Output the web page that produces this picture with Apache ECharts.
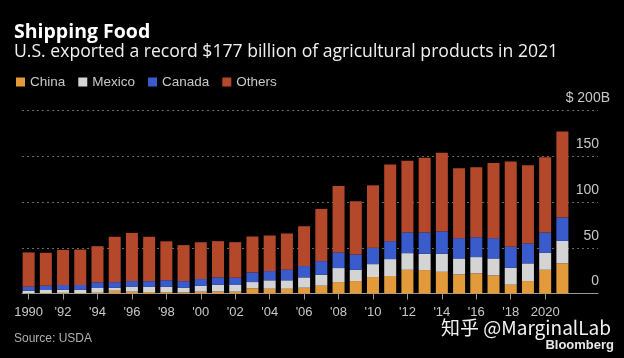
<!DOCTYPE html>
<html>
<head>
<meta charset="utf-8">
<style>
html,body{margin:0;padding:0;background:#000;}
#c{width:624px;height:358px;}
</style>
<script src="https://cdn.jsdelivr.net/npm/echarts@6/dist/echarts.min.js"></script>
</head>
<body>
<div id="c"></div>
<script>
const years = ['1990','1991','1992','1993','1994','1995','1996','1997','1998','1999','2000','2001','2002','2003','2004','2005','2006','2007','2008','2009','2010','2011','2012','2013','2014','2015','2016','2017','2018','2019','2020','2021'];
const china  = [0.5,0.5,0.7,0.4,0.8,3.0,2.0,1.6,1.5,1.2,2.0,2.2,2.0,5.7,5.2,5.2,6.3,8.5,12.5,13.6,18.0,19.1,25.9,25.6,23.7,20.9,22.0,19.8,9.6,13.6,25.9,32.9];
const mexico = [2.5,3.3,3.4,3.7,5.2,3.2,5.5,5.6,5.8,4.9,6.3,7.4,7.3,6.8,9.2,9.2,11.3,12.0,15.3,12.3,14.1,18.5,18.2,17.8,19.7,17.4,17.8,18.5,18.5,19.3,18.5,24.6];
const canada = [4.4,4.7,5.2,5.2,6.2,6.2,6.1,6.2,7.2,7.4,7.5,8.0,7.9,10.5,10.1,11.5,12.4,14.9,17.1,16.8,17.8,19.6,22.6,23.3,24.4,22.2,21.7,22.2,22.9,21.8,22.3,25.5];
const others = [37.5,36.0,38.4,38.7,39.5,49.6,52.6,48.6,42.5,39.4,40.2,39.6,38.9,39.3,38.9,39.7,43.5,57.0,72.5,58.1,68.3,83.8,78.3,81.7,86.0,76.5,76.6,82.0,93.3,85.6,82.3,94.0];
const seriesNames = ['China','Mexico','Canada','Others'];
const yTicks = [0,50,100,150,200];

const colors = ['#e39a3b','#d4d4d4','#3a5bcc','#b4482a'];
const font = 'Liberation Sans, Arial, sans-serif';
const headFont = '"Open Sans", sans-serif';

const chart = echarts.init(document.getElementById('c'), null, {renderer:'canvas'});
const seriesData = [china, mexico, canada, others];

chart.setOption({
  backgroundColor: '#000',
  animation: false,
  color: colors,
  title: [
    {text: 'Shipping Food', left: 9, top: 17,
     textStyle: {color:'#fff', fontSize: 19.5, fontWeight:'bold', fontFamily: headFont}},
    {text: 'U.S. exported a record $177 billion of agricultural products in 2021', left: 9, top: 38,
     textStyle: {color:'#f0f0f0', fontSize: 17.6, fontWeight:'normal', fontFamily: headFont}}
  ],
  legend: {
    left: 11, top: 70, icon: 'rect', itemWidth: 9, itemHeight: 9, itemGap: 13,
    textStyle: {color:'#c8c8c8', fontSize: 13.5, fontFamily: font},
    data: seriesNames
  },
  grid: [
    {left: 20, width: 551, top: 110.5, height: 183},
    {left: 22, right: 26, top: 110.5, height: 183}
  ],
  xAxis: [
    {type:'category', gridIndex:0, data: years, boundaryGap: true,
     axisLine:{show:false},
     axisTick:{show:true, alignWithLabel:true, interval:1, length:6, lineStyle:{color:'#9a9a9a'}},
     axisLabel:{interval:1, color:'#c8c8c8', fontSize:13, fontFamily:font, margin:12,
       formatter: v => (v==='1990'||v==='2020') ? v : "'" + v.slice(2)}},
    {type:'value', gridIndex:1, min:0, max:1, axisLine:{show:true, lineStyle:{color:'#9a9a9a', width:1}},
     axisTick:{show:false}, axisLabel:{show:false}, splitLine:{show:false}}
  ],
  yAxis: [
    {type:'value', gridIndex:0, min:0, max:200, interval:50, show:false, splitLine:{show:false}},
    {type:'value', gridIndex:1, position:'right', min:0, max:200, interval:50,
     axisLine:{show:false}, axisTick:{show:false},
     splitLine:{show:true, lineStyle:{color:'#6a6a6a', type:[2,3], width:1}},
     axisLabel:{inside:true, margin:-12, verticalAlign:'bottom', align:'right', padding:[0,0,5,0],
       color:'#c8c8c8', fontSize:14, fontFamily:font,
       formatter: v => yTicks.indexOf(v) < 0 ? '' : (v === 200 ? '{d|$ 200B}' : '{n|' + v + '}'),
       rich: {n:{padding:[0,11,0,0], fontSize:14, color:'#c8c8c8', fontFamily:font},
              d:{fontSize:14, color:'#c8c8c8', fontFamily:font}}}}
  ],
  series: seriesNames.map((name, i) => ({
    name, type:'bar', stack:'total', xAxisIndex:0, yAxisIndex:0,
    barWidth: 12, data: seriesData[i], itemStyle:{color: colors[i]}
  })),
  graphic: [
    {type:'text', left: 14, top: 333, style:{text:'Source: USDA', fill:'#b0b0b0', font:'12px ' + font}},
    {type:'text', right: 13, top: 318, style:{text:'知乎 @MarginalLab', fill:'#f2f2f2', font:'19px "Noto Sans CJK SC", sans-serif'}},
    {type:'text', right: 10, top: 339, style:{text:'Bloomberg', fill:'#e8e8e8', font:'bold 13px ' + font}}
  ]
});
</script>
</body>
</html>
